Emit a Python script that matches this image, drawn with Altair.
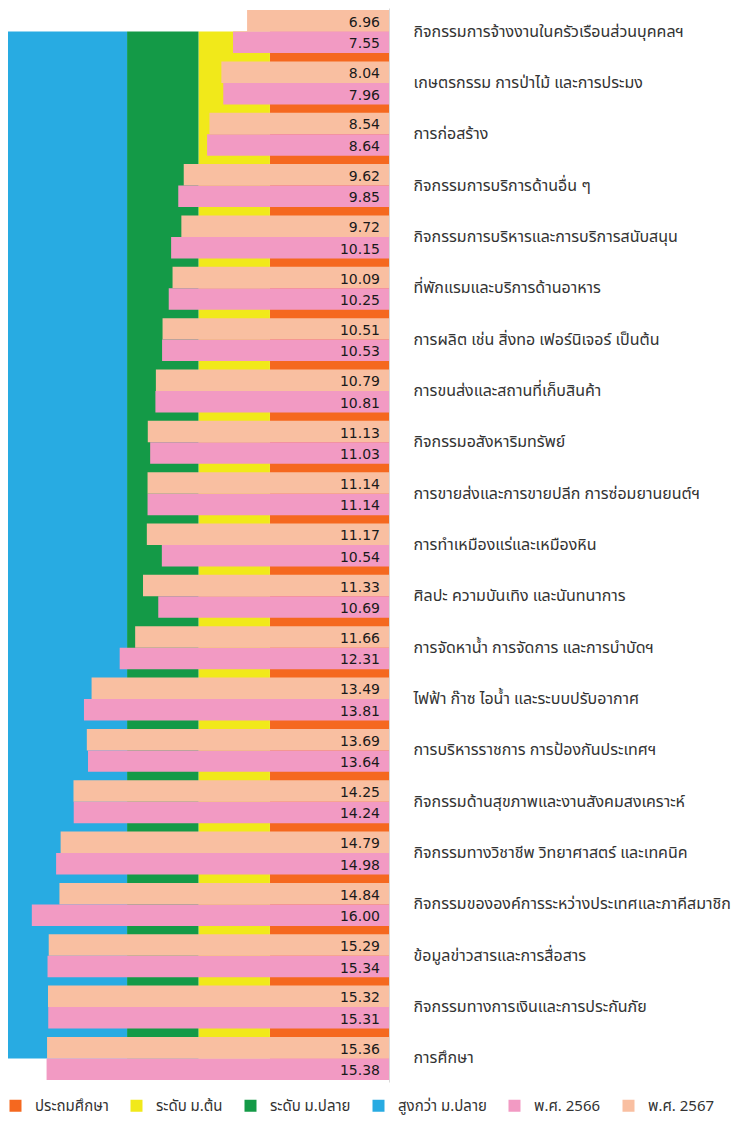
import altair as alt
import pandas as pd

categories = [
    "กิจกรรมการจ้างงานในครัวเรือนส่วนบุคคลฯ",
    "เกษตรกรรม การป่าไม้ และการประมง",
    "การก่อสร้าง",
    "กิจกรรมการบริการด้านอื่น ๆ",
    "กิจกรรมการบริหารและการบริการสนับสนุน",
    "ที่พักแรมและบริการด้านอาหาร",
    "การผลิต เช่น สิ่งทอ เฟอร์นิเจอร์ เป็นต้น",
    "การขนส่งและสถานที่เก็บสินค้า",
    "กิจกรรมอสังหาริมทรัพย์",
    "การขายส่งและการขายปลีก การซ่อมยานยนต์ฯ",
    "การทำเหมืองแร่และเหมืองหิน",
    "ศิลปะ ความบันเทิง และนันทนาการ",
    "การจัดหาน้ำ การจัดการ และการบำบัดฯ",
    "ไฟฟ้า ก๊าซ ไอน้ำ และระบบปรับอากาศ",
    "การบริหารราชการ การป้องกันประเทศฯ",
    "กิจกรรมด้านสุขภาพและงานสังคมสงเคราะห์",
    "กิจกรรมทางวิชาชีพ วิทยาศาสตร์ และเทคนิค",
    "กิจกรรมขององค์การระหว่างประเทศและภาคีสมาชิก",
    "ข้อมูลข่าวสารและการสื่อสาร",
    "กิจกรรมทางการเงินและการประกันภัย",
    "การศึกษา",
]
values_2567 = [6.96, 8.04, 8.54, 9.62, 9.72, 10.09, 10.51, 10.79, 11.13, 11.14, 11.17,
               11.33, 11.66, 13.49, 13.69, 14.25, 14.79, 14.84, 15.29, 15.32, 15.36]
values_2566 = [7.55, 7.96, 8.64, 9.85, 10.15, 10.25, 10.53, 10.81, 11.03, 11.14, 10.54,
               10.69, 12.31, 13.81, 13.64, 14.24, 14.98, 16.00, 15.34, 15.31, 15.38]
years = ["พ.ศ. 2566", "พ.ศ. 2567"]

edu_levels = ["ประถมศึกษา", "ระดับ ม.ต้น", "ระดับ ม.ปลาย", "สูงกว่า ม.ปลาย"]
edu_start = [1, 6, 9, 12]
edu_end = [6, 9, 12, 17]

series_domain = edu_levels + years
series_colors = ["#F5681F", "#F1E91A", "#149A47", "#28ABE2", "#F29AC3", "#F9BFA1"]

rows = []
for c, v7, v6 in zip(categories, values_2567, values_2566):
    rows.append({"category": c, "series": years[1], "value": v7, "label": f"{v7:.2f}"})
    rows.append({"category": c, "series": years[0], "value": v6, "label": f"{v6:.2f}"})
bars_df = pd.DataFrame(rows)

bg_df = pd.DataFrame({
    "series": edu_levels,
    "start": edu_start,
    "end": edu_end,
    "first": [categories[0]] * 4,
    "last": [categories[-1]] * 4,
})

FONT = "Noto Sans Thai, Noto Sans, sans-serif"

x_scale = alt.Scale(domain=[1, 17], reverse=True, zero=False, nice=False)
y_scale = alt.Scale(domain=categories, paddingInner=0.163, paddingOuter=0.04)
y_axis = alt.Axis(orient="right", title=None, ticks=False, domain=True, domainColor="#d9d9d9",
                  labelPadding=24, labelFontSize=16, labelColor="#333333", labelFont=FONT,
                  labelLimit=500, grid=False)
color = alt.Color("series:N", scale=alt.Scale(domain=series_domain, range=series_colors),
                  legend=alt.Legend(title=None, orient="none", direction="horizontal",
                                    legendX=0, legendY=1090, symbolType="square", symbolSize=144,
                                    symbolStrokeWidth=0, labelFontSize=15, labelFont=FONT,
                                    labelColor="#333333", labelOffset=12, columnPadding=20,
                                    labelLimit=300))
y_off = alt.YOffset("series:N", scale=alt.Scale(domain=[years[1], years[0]], paddingInner=0, paddingOuter=0))

bg = alt.Chart(bg_df).mark_rect().encode(
    x=alt.X("start:Q", scale=x_scale, axis=None),
    x2="end:Q",
    y=alt.Y("first:N", bandPosition=0.5, scale=y_scale, axis=y_axis),
    y2=alt.Y2("last", bandPosition=0.5),
    color=color,
)

bars = alt.Chart(bars_df).mark_bar().encode(
    x=alt.X("value:Q", scale=x_scale, axis=None),
    x2=alt.datum(1),
    y=alt.Y("category:N", scale=y_scale, axis=y_axis),
    yOffset=y_off,
    color=color,
)

labels = alt.Chart(bars_df).transform_calculate(base="1").mark_text(
    align="right", baseline="middle", dx=-9, dy=2,
    fontSize=14, font="DejaVu Sans", color="#1a1a1a").encode(
    x=alt.X("base:Q", scale=x_scale, axis=None),
    y=alt.Y("category:N", scale=y_scale, axis=y_axis),
    yOffset=y_off,
    text="label:N",
)

chart = alt.layer(bg, bars, labels).properties(
    width=381, height=1074,
    padding={"left": 0, "top": 0, "right": 0, "bottom": 8},
).configure_view(stroke=None)

chart.save("out.html", embed_options={"renderer": "svg", "actions": False})
